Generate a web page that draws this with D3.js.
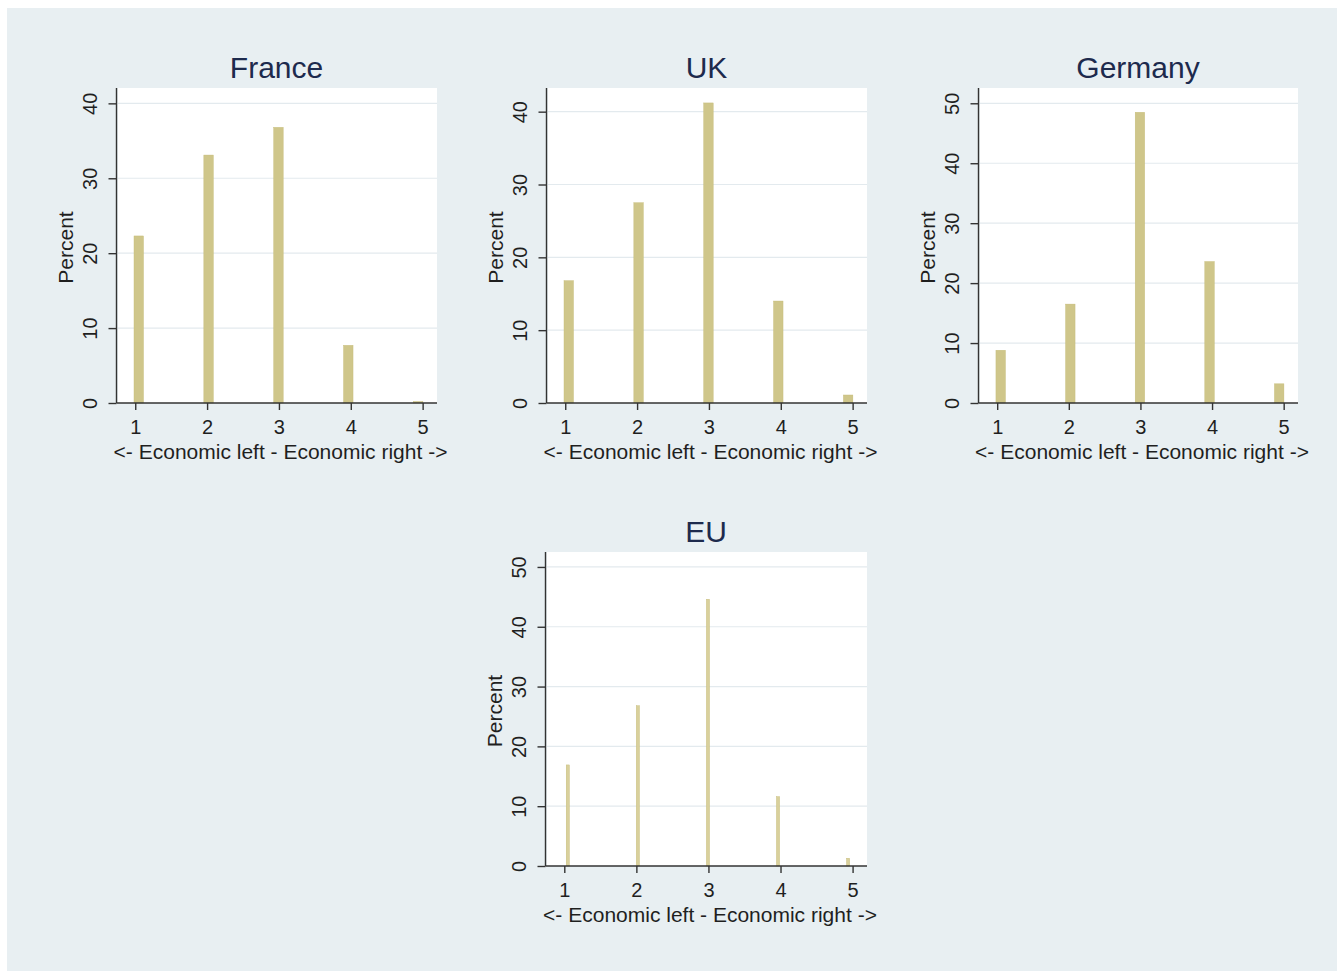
<!DOCTYPE html>
<html>
<head>
<meta charset="utf-8">
<script src="https://cdn.jsdelivr.net/npm/d3@7"></script>
<style>
  html, body { margin: 0; padding: 0; background: #ffffff; }
  svg { display: block; }
  text { font-family: "Liberation Sans", Arial, Helvetica, sans-serif; }
</style>
</head>
<body>
<svg id="chart" width="1337" height="974"></svg>
<script>
// Self-placement on the economic left-right scale (percent of respondents)
const categories = [1, 2, 3, 4, 5];
const xTickLabels = ["1", "2", "3", "4", "5"];
const panelTitles = ["France", "UK", "Germany", "EU"];
const franceValues = [22.3, 33.1, 36.8, 7.7, 0.2];
const ukValues = [16.8, 27.5, 41.2, 14.0, 1.1];
const germanyValues = [8.8, 16.5, 48.5, 23.6, 3.2];
const euValues = [16.9, 26.8, 44.6, 11.6, 1.3];
const yTicks40 = [0, 10, 20, 30, 40];
const yTicks50 = [0, 10, 20, 30, 40, 50];
const yAxisMax = [42.05, 43.25, 52.55, 52.5];
const xAxisTitle = "<- Economic left - Economic right ->";
const yAxisTitle = "Percent";

// Panel placement (plot region boxes) and bar styling
const layout = [
  { left: 118, top: 88,  width: 319, height: 315, barW: 9.5, barFill: "#cfc68a" },
  { left: 548, top: 88,  width: 319, height: 315, barW: 9.5, barFill: "#cfc68a" },
  { left: 980, top: 88,  width: 318, height: 315, barW: 9.5, barFill: "#cfc68a" },
  { left: 547, top: 552, width: 320, height: 314, barW: 3.2, barFill: "#d9d09c" }
];

const panels = [
  { title: panelTitles[0], values: franceValues, ticks: yTicks40, yMax: yAxisMax[0] },
  { title: panelTitles[1], values: ukValues, ticks: yTicks40, yMax: yAxisMax[1] },
  { title: panelTitles[2], values: germanyValues, ticks: yTicks50, yMax: yAxisMax[2] },
  { title: panelTitles[3], values: euValues, ticks: yTicks50, yMax: yAxisMax[3] }
];

const colors = {
  page: "#e8eff2",
  plot: "#ffffff",
  grid: "#e3eaee",
  axis: "#333333",
  text: "#1f1f1f",
  title: "#1d2a4d",
  barEdge: "#c3b973"
};

const svg = d3.select("#chart");

// graph region background
svg.append("rect")
  .attr("x", 7).attr("y", 8)
  .attr("width", 1330).attr("height", 963)
  .attr("fill", colors.page);

panels.forEach((p, i) => {
  const L = layout[i];
  const g = svg.append("g").attr("transform", `translate(${L.left},${L.top})`);

  const x = d3.scaleLinear().domain([0.76, 5.2]).range([0, L.width]);
  // bars sit on a slightly narrower span than the tick positions
  const xBar = d3.scaleLinear().domain([1, 5]).range([x(1) + 3.5, x(5) - 4.5]);
  const y = d3.scaleLinear().domain([0, p.yMax]).range([L.height, 0]);

  // plot region
  g.append("rect")
    .attr("x", 0).attr("y", 0)
    .attr("width", L.width).attr("height", L.height)
    .attr("fill", colors.plot);

  // horizontal grid lines
  g.append("g")
    .selectAll("line")
    .data(p.ticks.filter(t => t > 0))
    .join("line")
    .attr("x1", 0).attr("x2", L.width)
    .attr("y1", d => y(d)).attr("y2", d => y(d))
    .attr("stroke", colors.grid)
    .attr("stroke-width", 1.2);

  // bars
  g.append("g")
    .selectAll("rect")
    .data(categories.map((c, k) => ({ c, v: p.values[k] })))
    .join("rect")
    .attr("x", d => xBar(d.c) - L.barW / 2)
    .attr("width", L.barW)
    .attr("y", d => y(d.v))
    .attr("height", d => y(0) - y(d.v))
    .attr("fill", L.barFill)
    .attr("stroke", colors.barEdge)
    .attr("stroke-width", 0.4);

  // y axis
  const yAxis = g.append("g")
    .attr("transform", "translate(-1.5,0)")
    .call(d3.axisLeft(y).tickValues(p.ticks).tickSize(8).tickSizeOuter(0).tickPadding(0));
  yAxis.select(".domain").attr("stroke", colors.axis).attr("stroke-width", 1.4)
    .attr("d", `M0,0V${L.height}`);
  yAxis.selectAll(".tick line").attr("stroke", colors.axis).attr("stroke-width", 1.4);
  yAxis.selectAll(".tick text")
    .attr("x", 0).attr("y", -20).attr("dy", 0)
    .attr("transform", "rotate(-90)")
    .attr("text-anchor", "middle")
    .attr("fill", colors.text)
    .style("font-size", "20px")
    .style("font-family", "'Liberation Sans', Arial, sans-serif");

  // x axis
  const xAxis = g.append("g")
    .attr("transform", `translate(0,${L.height})`)
    .call(d3.axisBottom(x).tickValues(categories)
      .tickFormat((d, k) => xTickLabels[k]).tickSize(7).tickSizeOuter(0).tickPadding(0));
  xAxis.select(".domain").attr("stroke", colors.axis).attr("stroke-width", 1.4)
    .attr("d", `M-1.5,0H${L.width}`);
  xAxis.selectAll(".tick line").attr("stroke", colors.axis).attr("stroke-width", 1.4);
  xAxis.selectAll(".tick text")
    .attr("y", 31).attr("dy", 0)
    .attr("fill", colors.text)
    .style("font-size", "20px")
    .style("font-family", "'Liberation Sans', Arial, sans-serif");

  // axis titles
  g.append("text")
    .attr("x", L.width / 2 + 3)
    .attr("y", L.height + 56)
    .attr("text-anchor", "middle")
    .attr("fill", colors.text)
    .style("font-size", "21px")
    .text(xAxisTitle);

  g.append("text")
    .attr("transform", `translate(-45,${L.height / 2 + 2}) rotate(-90)`)
    .attr("text-anchor", "middle")
    .attr("fill", colors.text)
    .style("font-size", "21px")
    .text(yAxisTitle);

  // panel title
  g.append("text")
    .attr("x", L.width / 2 - 1)
    .attr("y", -10)
    .attr("text-anchor", "middle")
    .attr("fill", colors.title)
    .style("font-size", "30px")
    .text(p.title);
});
</script>
</body>
</html>
